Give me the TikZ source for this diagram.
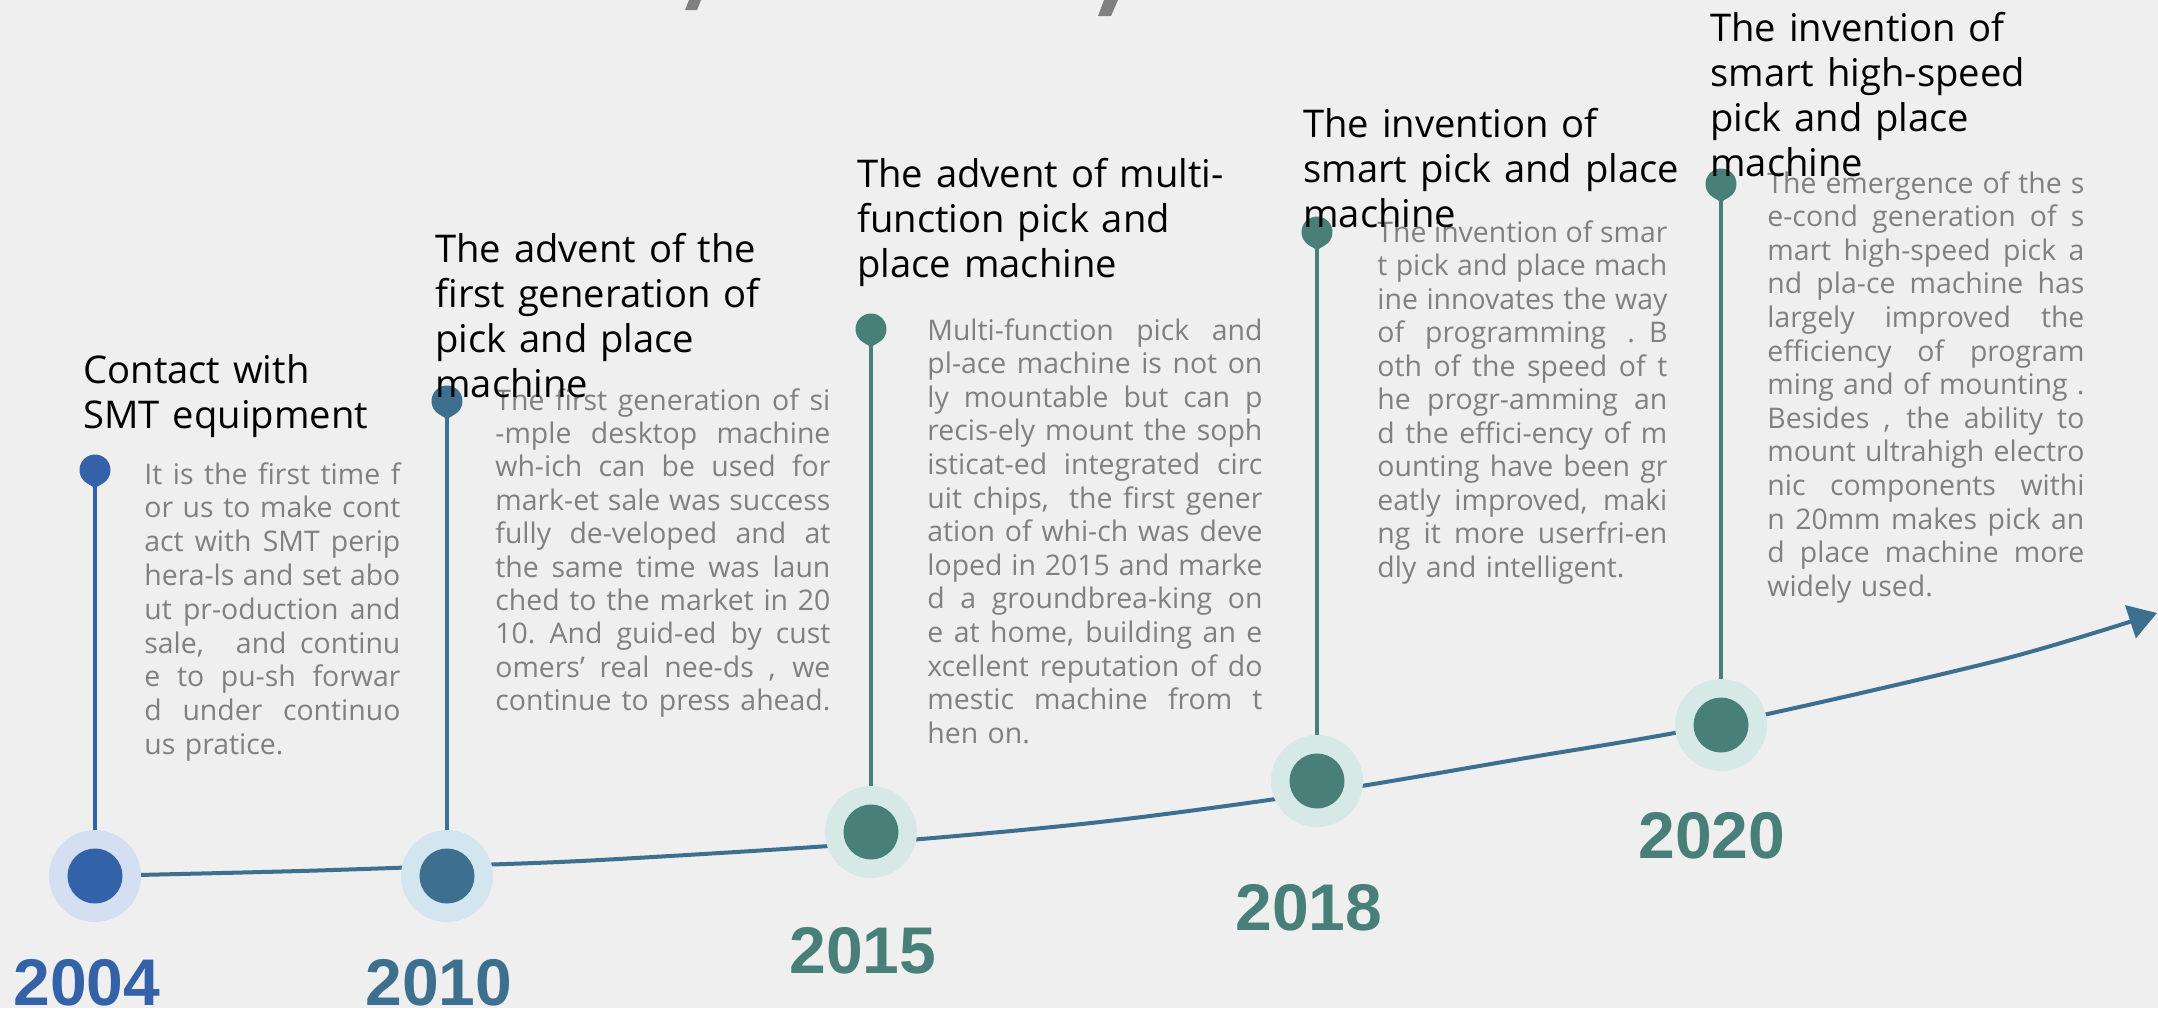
\documentclass[tikz,border=0pt]{standalone}
\usepackage{fontspec}
\setmainfont{Open Sans}
\newfontfamily\yearfont{Liberation Sans}
\usepackage{xcolor}
\usetikzlibrary{arrows.meta}

\definecolor{paper}{RGB}{239,239,239}
\definecolor{bodygray}{RGB}{128,128,128}
\definecolor{blueA}{RGB}{52,98,168}
\definecolor{blueAlite}{RGB}{212,223,241}
\definecolor{steel}{RGB}{61,111,143}
\definecolor{steellite}{RGB}{211,229,238}
\definecolor{tealB}{RGB}{72,127,120}
\definecolor{teallite}{RGB}{214,233,230}

\newlength\colw
\newcommand\jl[1]{\leavevmode\hbox to\colw{\spaceskip=0.26em plus 1em minus 0.08em #1}\\}

\begin{document}
\begin{tikzpicture}[x=0.5pt,y=-0.5pt]
\tikzset{headline/.style={anchor=base west,inner sep=0pt,text width=#1,align=left,font=\fontsize{19.1}{22.5}\selectfont}}
\tikzset{story/.style={anchor=base west,inner sep=0pt,text width=\colw,text=bodygray,font=\fontsize{14.2}{#1}\selectfont}}
\tikzset{ring/.style={circle,fill=#1,minimum size=46pt,inner sep=0pt}}
\tikzset{dot/.style={circle,fill=#1,minimum size=27.5pt,inner sep=0pt}}
\tikzset{stem/.style={draw=#1,line width=2pt}}
\tikzset{year/.style={anchor=base,inner sep=0pt,text=#1,font=\yearfont\bfseries\fontsize{33}{33}\selectfont}}
\tikzset{pics/pinhead/.style={code={\fill[#1] (0,18) -- (59.4:15.5) arc[start angle=59.4,end angle=-239.4,radius=15.5] -- cycle;}}}

\useasboundingbox (0,0) rectangle (2158,1008);
\fill[paper] (0,0) rectangle (2158,1008);
\fill[bodygray] (685,10) -- (697,10) -- (701,0) -- (689,0) -- cycle;
\fill[bodygray] (1098,16) -- (1111,16) -- (1118,0) -- (1104,0) -- cycle;

\coordinate (c04) at (95,876);
\coordinate (tip) at (2157,613);
\draw[steel,line width=2pt,-{Triangle[length=14pt,width=17pt]}] plot[smooth,tension=0.5] coordinates {(c04) (300,871) (447,866) (600,860) (871,843) (1100,822) (1317,793) (1520,759) (1721,724) (2000,660) (tip)};

\node[ring=blueAlite] (r04) at (c04) {};
\node[ring=steellite] (r10) at (447,876) {};
\node[ring=teallite] (r15) at (871,832) {};
\node[ring=teallite] (r18) at (1317,781) {};
\node[ring=teallite] (r20) at (1721,725) {};
\node[dot=blueA] (d04) at (r04) {};
\node[dot=steel] (d10) at (r10) {};
\node[dot=tealB] (d15) at (r15) {};
\node[dot=tealB] (d18) at (r18) {};
\node[dot=tealB] (d20) at (r20) {};

\coordinate (p04) at (95,470);
\coordinate (p10) at (447,401);
\coordinate (p15) at (871,329);
\coordinate (p18) at (1317,232);
\coordinate (p20) at (1721,184);
\draw[stem=blueA] (p04) -- (r04.north);
\draw[stem=steel] (p10) -- (r10.north);
\draw[stem=tealB] (p15) -- (r15.north);
\draw[stem=tealB] (p18) -- (r18.north);
\draw[stem=tealB] (p20) -- (r20.north);
\pic at (p04) {pinhead=blueA};
\pic at (p10) {pinhead=steel};
\pic at (p15) {pinhead=tealB};
\pic at (p18) {pinhead=tealB};
\pic at (p20) {pinhead=tealB};

\node[year=blueA] (y04) at (87,1005) {2004};
\node[year=steel] (y10) at (439,1005) {2010};
\node[year=tealB] (y15) at (863,973) {2015};
\node[year=tealB] (y18) at (1309,930) {2018};
\node[year=tealB] (y20) at (1712,858) {2020};

\setlength\colw{128pt}
\node[story=16.9pt] (b04) at (144,484) {%
\jl{It is the first time f}
\jl{or us to make cont}
\jl{act with SMT perip}
\jl{hera-ls and set abo}
\jl{ut pr-oduction and}
\jl{sale,\hspace{0.6em} and continu}
\jl{e to pu-sh forwar}
\jl{d under continuo}
us pratice.};
\setlength\colw{167.5pt}
\node[story=16.7pt] (b10) at (495,410) {%
\jl{The first generation of si}
\jl{-mple desktop machine}
\jl{wh-ich can be used for}
\jl{mark-et sale was success}
\jl{fully de-veloped and at}
\jl{the same time was laun}
\jl{ched to the market in 20}
\jl{10. And guid-ed by cust}
\jl{omers’ real nee-ds , we}
\leavevmode\hbox to\colw{\spaceskip=0.26em plus 1em minus 0.08em continue to press ahead.}};
\node[story=16.8pt] (b15) at (927,340) {%
\jl{Multi-function pick and}
\jl{pl-ace machine is not on}
\jl{ly mountable but can p}
\jl{recis-ely mount the soph}
\jl{isticat-ed integrated circ}
\jl{uit chips,\hspace{0.3em} the first gener}
\jl{ation of whi-ch was deve}
\jl{loped in 2015 and marke}
\jl{d a groundbrea-king on}
\jl{e at home, building an e}
\jl{xcellent reputation of do}
\jl{mestic machine from t}
hen on.};
\setlength\colw{145pt}
\node[story=16.75pt] (b18) at (1377,242) {%
\jl{The invention of smar}
\jl{t pick and place mach}
\jl{ine innovates the way}
\jl{of programming . B}
\jl{oth of the speed of t}
\jl{he progr-amming an}
\jl{d the effici-ency of m}
\jl{ounting have been gr}
\jl{eatly improved, maki}
\jl{ng it more userfri-en}
dly and intelligent.};
\setlength\colw{158.5pt}
\node[story=16.8pt] (b20) at (1767,193) {%
\jl{The emergence of the s}
\jl{e-cond generation of s}
\jl{mart high-speed pick a}
\jl{nd pla-ce machine has}
\jl{largely improved the}
\jl{efficiency of program}
\jl{ming and of mounting .}
\jl{Besides , the ability to}
\jl{mount ultrahigh electro}
\jl{nic components withi}
\jl{n 20mm makes pick an}
\jl{d place machine more}
widely used.};

\node[headline=200pt] (t04) at (83,383) {Contact with\\SMT equipment};
\node[headline=200pt] (t10) at (435,262) {The advent of the\\first generation of\\pick and place\\machine};
\node[headline=200pt] (t15) at (857,187) {The advent of multi-\\function pick and\\place machine};
\node[headline=200pt] (t18) at (1303,137) {The invention of\\smart pick and place\\machine};
\node[headline=200pt] (t20) at (1710,41) {The invention of\\smart high-speed\\pick and place\\machine};
\end{tikzpicture}
\end{document}
